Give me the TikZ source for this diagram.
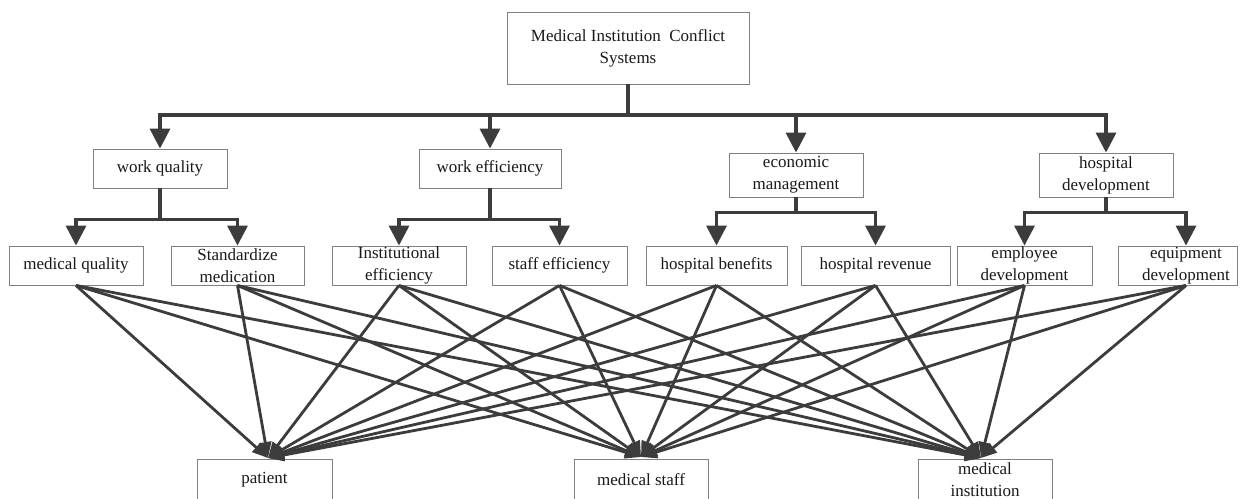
\documentclass[tikz,border=0pt]{standalone}
\usepackage{fontspec}
\setmainfont{Liberation Serif}
\usetikzlibrary{arrows.meta}
\definecolor{ln}{HTML}{3C3C3C}
\definecolor{bx}{HTML}{808080}
\begin{document}
\begin{tikzpicture}[x=1pt,y=-1pt,
  box/.style={draw=bx, line width=0.9pt, fill=white, inner sep=0pt, align=center,
              font=\fontsize{17}{22}\selectfont, text=black!90},
  lbl/.style={inner sep=0pt, align=center, font=\fontsize{17}{22}\selectfont, text=black!90},
  tree/.style={draw=ln, line width=3.4pt, -{Triangle[length=20pt,width=20pt]}},
  cross/.style={draw=ln, line width=2.8pt, -{Triangle[length=16pt,width=12pt]}},
]
\useasboundingbox (0,0) rectangle (1244,498);
\clip (0,0) rectangle (1244,498);
\fill[white] (0,0) rectangle (1244,498);

% level 1
\node[box, minimum width=242pt, minimum height=72pt] (top) at (628,48)
  {Medical Institution~ Conflict\\Systems};

% level 2
\node[box, minimum width=134pt, minimum height=39pt] (wq) at (160,168.5) {work quality};
\node[box, minimum width=142pt, minimum height=39pt] (we) at (490,168.5) {work efficiency};
\node[box, minimum width=134pt, minimum height=44pt] (em) at (796,175) {economic\\management};
\node[box, minimum width=134pt, minimum height=44pt] (hd) at (1106,175) {hospital\\development};

% level 3
\node[box, minimum width=134pt, minimum height=39pt] (mq) at (76,265.5) {medical quality};
\node[box, minimum width=133pt, minimum height=39pt] (sm) at (237.5,265.5) {Standardize\\medication};
\node[box, minimum width=134pt, minimum height=39pt] (ie) at (399,265.5) {Institutional\\efficiency};
\node[box, minimum width=135pt, minimum height=39pt] (se) at (559.5,265.5) {staff efficiency};
\node[box, minimum width=141pt, minimum height=39pt] (hb) at (716.5,265.5) {hospital benefits};
\node[box, minimum width=149pt, minimum height=39pt] (hr) at (875.5,265.5) {hospital revenue};
\node[box, minimum width=135pt, minimum height=39pt] (ed) at (1024.5,265.5) {employee\\development};
\node[box, minimum width=119pt, minimum height=39pt] (eq) at (1177.5,265.5) {};
\node[lbl] (eqt) at (1186,265.5) {equipment\\development};

% bottom
\node[box, minimum width=135pt, minimum height=42pt] (pa) at (264.5,480) {patient};
\node[box, minimum width=134pt, minimum height=42pt] (ms) at (641,480) {medical staff};
\node[box, minimum width=134pt, minimum height=42pt] (mi) at (985,480) {medical\\institution};

\coordinate (cp) at (268,458);
\coordinate (cs) at (641,457);
\coordinate (ci) at (981,458);
\coordinate (bar) at (628,115);

% tree connectors
\foreach \n in {wq,we,em,hd}
  \draw[tree] (top.south) -- (bar) -| (\n.north);
\draw[tree] (wq.south) -- ++(0,31) -| (mq.north);
\draw[tree] (wq.south) -- ++(0,31) -| (sm.north);
\draw[tree] (we.south) -- ++(0,31) -| (ie.north);
\draw[tree] (we.south) -- ++(0,31) -| (se.north);
\draw[tree] (em.south) -- ++(0,15) -| (hb.north);
\draw[tree] (em.south) -- ++(0,15) -| (hr.north);
\draw[tree] (hd.south) -- ++(0,15) -| (ed.north);
\draw[tree] (hd.south) -- ++(0,15) -| (eqt |- eq.north);

% cross connectors
\foreach \s in {mq,sm,ie,se,hb,hr,ed}
  \foreach \d in {cp,cs,ci}
    \draw[cross] (\s.south) -- (\d);
\foreach \d in {cp,cs,ci}
  \draw[cross] (eqt |- eq.south) -- (\d);
\end{tikzpicture}
\end{document}
